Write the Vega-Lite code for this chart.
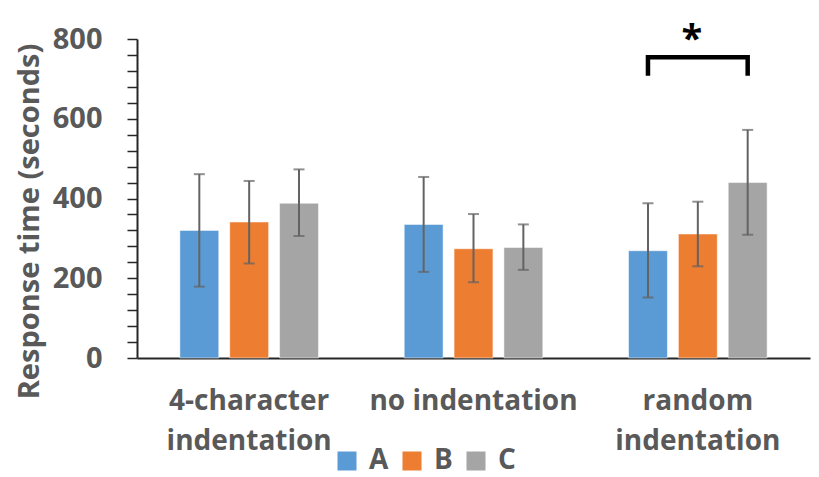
{
  "$schema": "https://vega.github.io/schema/vega-lite/v6.json",
  "autosize": {"type": "none"},
  "padding": {"left": 137, "top": 39, "right": 9, "bottom": 119},
  "width": 673,
  "height": 319,
  "config": {
    "font": "Open Sans",
    "view": {"stroke": null},
    "axis": {"grid": false}
  },
  "datasets": {
    "bars": [
      {"condition": "4-character indentation", "group": "A", "mean": 320, "lo": 179, "hi": 461},
      {"condition": "4-character indentation", "group": "B", "mean": 341, "lo": 237, "hi": 444},
      {"condition": "4-character indentation", "group": "C", "mean": 388, "lo": 306, "hi": 473},
      {"condition": "no indentation", "group": "A", "mean": 335, "lo": 216, "hi": 454},
      {"condition": "no indentation", "group": "B", "mean": 274, "lo": 190, "hi": 361},
      {"condition": "no indentation", "group": "C", "mean": 277, "lo": 221, "hi": 335},
      {"condition": "random indentation", "group": "A", "mean": 269, "lo": 152, "hi": 388},
      {"condition": "random indentation", "group": "B", "mean": 311, "lo": 230, "hi": 392},
      {"condition": "random indentation", "group": "C", "mean": 440, "lo": 309, "hi": 572}
    ],
    "bracket": [
      {"condition": "random indentation", "group": "A", "y": 708, "ord": 1},
      {"condition": "random indentation", "group": "A", "y": 754, "ord": 2},
      {"condition": "random indentation", "group": "C", "y": 754, "ord": 3},
      {"condition": "random indentation", "group": "C", "y": 708, "ord": 4}
    ],
    "star": [
      {"condition": "random indentation", "label": "*", "y": 796}
    ]
  },
  "layer": [
    {
      "data": {"name": "bars"},
      "mark": {"type": "bar", "stroke": "white", "strokeWidth": 1, "strokeOpacity": 0.5},
      "encoding": {
        "x": {
          "field": "condition", "type": "nominal",
          "sort": ["4-character indentation", "no indentation", "random indentation"],
          "scale": {"paddingInner": 0.3333, "paddingOuter": 0.1667},
          "axis": {
            "title": null, "labelAngle": 0, "ticks": false,
            "domainColor": "#262626", "domainWidth": 2,
            "labelFont": "Open Sans", "labelFontWeight": "bold", "labelFontSize": 28,
            "labelColor": "#595959", "labelPadding": 29, "labelLineHeight": 40,
            "labelBaseline": "top", "labelLimit": 400,
            "labelExpr": "datum.label == 'no indentation' ? datum.label : split(datum.label, ' ')"
          }
        },
        "xOffset": {"field": "group", "type": "nominal", "scale": {"paddingInner": 0.22, "paddingOuter": 0.11}},
        "y": {
          "field": "mean", "type": "quantitative",
          "scale": {"domain": [0, 800]},
          "axis": {
            "title": "Response time (seconds)",
            "titleFont": "Open Sans", "titleFontSize": 29, "titleFontWeight": "bold", "titleColor": "#595959",
            "titleX": -108, "titleY": 182, "titleAngle": -90, "titleBaseline": "middle", "titleAlign": "center",
            "values": [0, 40, 80, 120, 160, 200, 240, 280, 320, 360, 400, 440, 480, 520, 560, 600, 640, 680, 720, 760, 800],
            "tickCount": 40,
            "labelExpr": "datum.value % 200 === 0 ? datum.label : ''",
            "labelFont": "Open Sans", "labelFontWeight": "bold", "labelFontSize": 29, "labelColor": "#595959",
            "labelPadding": 25, "tickSize": 10, "tickColor": "#262626", "tickWidth": 1.5,
            "domainColor": "#262626", "domainWidth": 2, "labelBound": false, "labelOverlap": false
          }
        },
        "color": {
          "field": "group", "type": "nominal",
          "scale": {"domain": ["A", "B", "C"], "range": ["#5B9BD5", "#ED7D31", "#A5A5A5"]},
          "legend": {
            "title": null, "orient": "none", "direction": "horizontal",
            "legendX": 196, "legendY": 408, "padding": 0,
            "symbolType": "square", "symbolSize": 361, "symbolStrokeWidth": 0, "symbolOpacity": 1,
            "labelFont": "Open Sans", "labelFontWeight": "bold", "labelFontSize": 28, "labelColor": "#595959",
            "labelOffset": 8, "columnPadding": 9
          }
        }
      }
    },
    {
      "data": {"name": "bars"},
      "mark": {"type": "rule", "color": "#636363", "strokeWidth": 2},
      "encoding": {
        "x": {"field": "condition", "type": "nominal", "sort": ["4-character indentation", "no indentation", "random indentation"]},
        "xOffset": {"field": "group", "type": "nominal"},
        "y": {"field": "lo", "type": "quantitative"},
        "y2": {"field": "hi"}
      }
    },
    {
      "data": {"name": "bars"},
      "mark": {"type": "tick", "orient": "horizontal", "color": "#636363", "thickness": 2, "size": 11},
      "encoding": {
        "x": {"field": "condition", "type": "nominal", "sort": ["4-character indentation", "no indentation", "random indentation"]},
        "xOffset": {"field": "group", "type": "nominal"},
        "y": {"field": "lo", "type": "quantitative"}
      }
    },
    {
      "data": {"name": "bars"},
      "mark": {"type": "tick", "orient": "horizontal", "color": "#636363", "thickness": 2, "size": 11},
      "encoding": {
        "x": {"field": "condition", "type": "nominal", "sort": ["4-character indentation", "no indentation", "random indentation"]},
        "xOffset": {"field": "group", "type": "nominal"},
        "y": {"field": "hi", "type": "quantitative"}
      }
    },
    {
      "data": {"name": "bracket"},
      "mark": {"type": "line", "color": "black", "strokeWidth": 4.5, "strokeJoin": "miter", "strokeCap": "butt"},
      "encoding": {
        "x": {"field": "condition", "type": "nominal", "sort": ["4-character indentation", "no indentation", "random indentation"]},
        "xOffset": {"field": "group", "type": "nominal"},
        "y": {"field": "y", "type": "quantitative"},
        "order": {"field": "ord", "type": "quantitative"}
      }
    },
    {
      "data": {"name": "star"},
      "mark": {"type": "text", "color": "black", "fontSize": 38, "fontWeight": "bold", "font": "Open Sans", "baseline": "middle", "dx": -6},
      "encoding": {
        "x": {"field": "condition", "type": "nominal", "sort": ["4-character indentation", "no indentation", "random indentation"]},
        "y": {"field": "y", "type": "quantitative"},
        "text": {"field": "label"}
      }
    }
  ]
}
